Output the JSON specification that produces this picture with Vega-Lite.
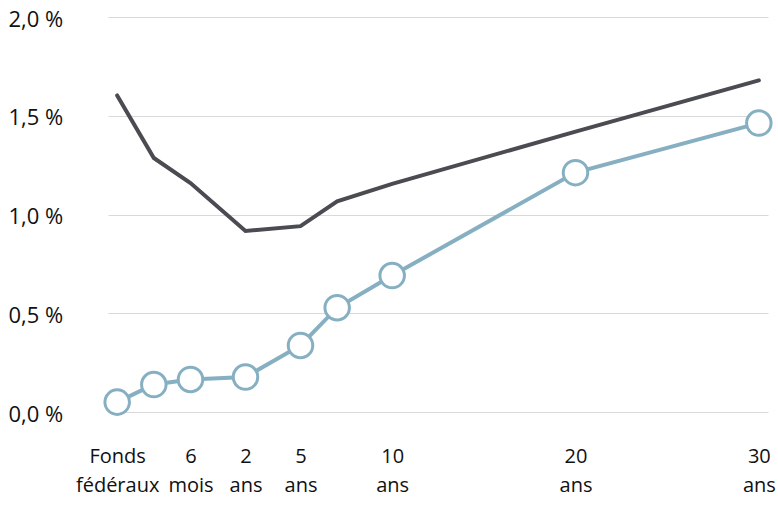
{
  "$schema": "https://vega.github.io/schema/vega-lite/v6.json",
  "autosize": "none",
  "width": 660,
  "height": 395,
  "padding": {"left": 108, "top": 17, "right": 10, "bottom": 106},
  "background": "white",
  "config": {
    "view": {"stroke": null},
    "font": "Open Sans",
    "axis": {"labelFont": "Open Sans", "labelFontSize": 20, "labelColor": "#111111"}
  },
  "data": {
    "values": [
      {"pos": 0, "series": "A", "rate": 1.603},
      {"pos": 2, "series": "A", "rate": 1.286},
      {"pos": 4, "series": "A", "rate": 1.159},
      {"pos": 7, "series": "A", "rate": 0.917},
      {"pos": 10, "series": "A", "rate": 0.941},
      {"pos": 12, "series": "A", "rate": 1.067},
      {"pos": 15, "series": "A", "rate": 1.155},
      {"pos": 25, "series": "A", "rate": 1.42},
      {"pos": 35, "series": "A", "rate": 1.679},
      {"pos": 0, "series": "B", "rate": 0.05},
      {"pos": 2, "series": "B", "rate": 0.139},
      {"pos": 4, "series": "B", "rate": 0.165},
      {"pos": 7, "series": "B", "rate": 0.177},
      {"pos": 10, "series": "B", "rate": 0.337},
      {"pos": 12, "series": "B", "rate": 0.528},
      {"pos": 15, "series": "B", "rate": 0.691},
      {"pos": 25, "series": "B", "rate": 1.212},
      {"pos": 35, "series": "B", "rate": 1.463}
    ]
  },
  "encoding": {
    "x": {
      "field": "pos", "type": "quantitative",
      "scale": {"domain": [-0.5, 35.5], "nice": false, "zero": false},
      "axis": {
        "title": null, "grid": false, "domain": false, "ticks": false,
        "values": [0, 4, 7, 10, 15, 25, 35],
        "labelPadding": 34, "labelLineHeight": 29, "labelBaseline": "top",
        "labelFlush": false, "labelOverlap": false,
        "labelExpr": "datum.value == 0 ? ['Fonds', 'fédéraux'] : datum.value == 4 ? ['6', 'mois'] : datum.value == 7 ? ['2', 'ans'] : datum.value == 10 ? ['5', 'ans'] : datum.value == 15 ? ['10', 'ans'] : datum.value == 25 ? ['20', 'ans'] : ['30', 'ans']"
      }
    },
    "y": {
      "field": "rate", "type": "quantitative",
      "scale": {"domain": [0, 2], "nice": false},
      "axis": {
        "title": null, "domain": false, "ticks": false,
        "values": [0, 0.5, 1, 1.5, 2],
        "gridColor": "#d9d9d9", "gridWidth": 1,
        "labelFontSize": 22,
        "labelAlign": "left", "labelPadding": 100, "labelBaseline": "middle", "labelOffset": 2,
        "labelExpr": "replace(format(datum.value, '.1f'), '.', ',') + ' %'"
      }
    },
    "color": {
      "field": "series", "type": "nominal",
      "scale": {"domain": ["A", "B"], "range": ["#4a4c52", "#86b0c2"]},
      "legend": null
    }
  },
  "layer": [
    {"mark": {"type": "line", "strokeWidth": 4, "strokeCap": "round", "strokeJoin": "miter"}},
    {
      "transform": [{"filter": "datum.series == 'B'"}],
      "mark": {"type": "point", "filled": false, "fill": "white", "fillOpacity": 1, "stroke": "#86b0c2", "strokeWidth": 3, "size": 600, "opacity": 1}
    }
  ]
}
